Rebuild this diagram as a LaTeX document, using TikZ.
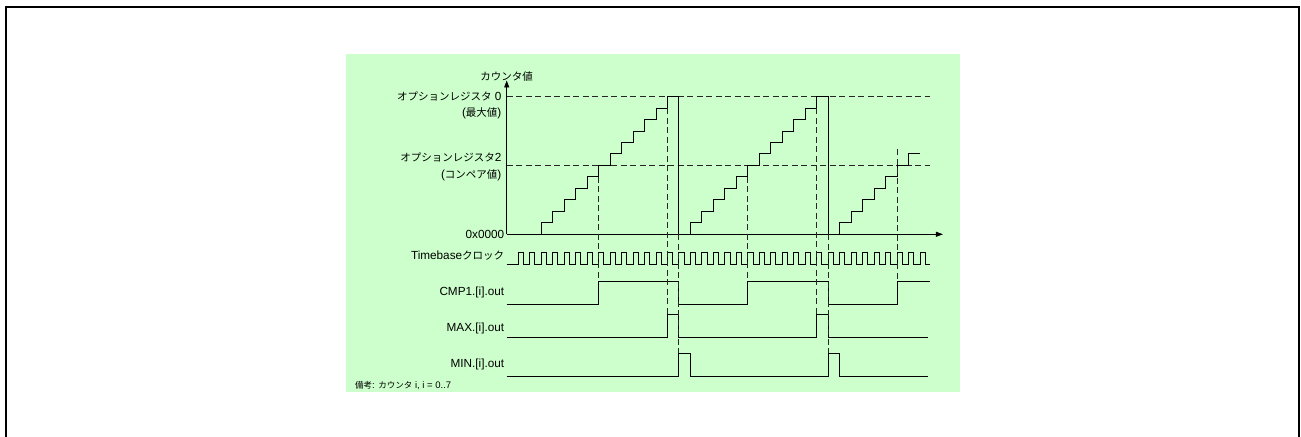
\documentclass[tikz,border=0pt]{standalone}
\usepackage{fontspec}
\setmainfont[Scale=1.12]{Liberation Sans}
\newfontfamily\jp{Noto Sans CJK JP}
\usetikzlibrary{positioning, arrows.meta}
\definecolor{bggreen}{HTML}{CCFFCC}
\tikzset{
	sig/.style={black, line width=0.9bp},
	guide/.style={black!85, line width=0.9bp, dash pattern=on 6bp off 3.5bp},
	lbl/.style={anchor=east, inner sep=0pt, font=\fontsize{10.5bp}{12bp}\selectfont},
}
\begin{document}
\begin{tikzpicture}[x=1bp, y=-1bp]
		\useasboundingbox (0,0) rectangle (1301,437);
		% Frame and background
		\draw[line width=1.6bp] (6,450) -- (6,7) -- (1299,7) -- (1299,450);
		\fill[bggreen] (346,54) rectangle (960,392);
		\node[anchor=west, inner sep=0pt, font=\fontsize{8.5bp}{9bp}\selectfont] (note) at (355,386) {{\jp 備考}: {\jp カウンタ} i, i = 0..7};
		
		\begin{scope}[shift={(506.7,234.3)}, x=11.48bp, y=11.48bp]
			% Draw axes
			\draw[sig, -{Triangle[length=7bp, width=5bp]}] (0, 0) -- (38, 0);
			\draw[sig, -{Triangle[length=7bp, width=5bp]}] (0, 0) -- (0, 13.4) node[above=-1bp, inner sep=0pt, font=\fontsize{10.5bp}{12bp}\selectfont] (ylab) {\jp カウンタ値};
			
			% Levels
			\draw[guide] (0, 12) -- (36.9, 12);
			\draw[guide] (0, 6) -- (36.9, 6);
			\node[lbl] (maxlab) at (-0.45, 12) {{\jp オプションレジスタ} 0};
			\node[lbl] (maxsub) at (-0.45, 10.55) {({\jp 最大値})};
			\node[lbl] (cmplab) at (-0.45, 6.7) {{\jp オプションレジスタ}2};
			\node[lbl] (cmpsub) at (-0.45, 5.1) {({\jp コンペア値})};
			\node[lbl] (zerolab) at (-0.2, 0) {0x0000};
			
			% Counter value
			\draw[sig] (2, 0) foreach \k in {1,...,12} { -| ({\k+2}, \k) } -- (15, 12) -- (15, 0)
			foreach \k in {1,...,12} { -| ({\k+15}, \k) } -- (28, 12) -- (28, 0)
			foreach \k in {1,...,7} { -| ({\k+28}, \k) } -- (36, 7);
			
			% Signal names
			\node[lbl] (clklab) at (-0.2, -1.85) {Timebase{\jp クロック}};
			\node[lbl] (cmpout) at (-0.2, -5.05) {CMP1.[i].out};
			\node[lbl] (maxout) at (-0.2, -8.2) {MAX.[i].out};
			\node[lbl] (minout) at (-0.2, -11.35) {MIN.[i].out};
			
			% Timebase clock
			\draw[sig] (0, -2.6) foreach \k in {1,...,36} { -- (\k, -2.6) -- (\k, -1.6) -- ({\k+0.45}, -1.6) -- ({\k+0.45}, -2.6) } -- (36.85, -2.6);
			
			% Outputs
			\draw[sig] (0, -6.15) -- (8, -6.15) -- (8, -4.1) -- (15, -4.1) -- (15, -6.15) -- (21, -6.15) -- (21, -4.1) -- (28, -4.1) -- (28, -6.15) -- (34, -6.15) -- (34, -4.1) -- (36.85, -4.1);
			\draw[sig] (0, -9) -- (14, -9) -- (14, -7) -- (15, -7) -- (15, -9) -- (27, -9) -- (27, -7) -- (28, -7) -- (28, -9) -- (36.7, -9);
			\draw[sig] (0, -12.35) -- (15, -12.35) -- (15, -10.35) -- (16, -10.35) -- (16, -12.35) -- (28, -12.35) -- (28, -10.35) -- (29, -10.35) -- (29, -12.35) -- (36.7, -12.35);
			
			% Timing guides
			\foreach \t/\a/\b in {8/5/-4.1, 21/5/-4.1, 34/7.4/-4.1, 14/11/-7, 27/11/-7, 15/0/-10.35, 28/0/-10.35}
				\draw[guide] (\t, \a) -- (\t, \b);
		\end{scope}
	\end{tikzpicture}
\end{document}
